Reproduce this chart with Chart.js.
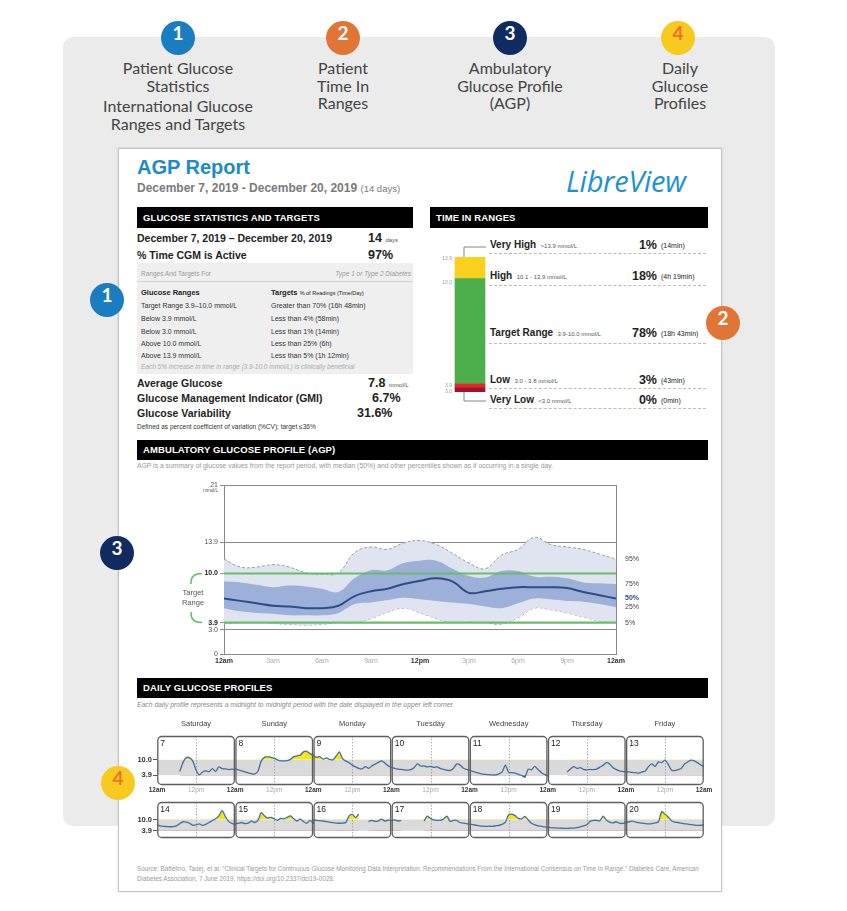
<!DOCTYPE html>
<html>
<head>
<meta charset="utf-8">
<script src="https://cdn.jsdelivr.net/npm/chart.js@4.4.1/dist/chart.umd.min.js"></script>
<style>
body { margin: 0; background: #fff; }
#page { position: relative; width: 847px; height: 911px; overflow: hidden; font-family: "Liberation Sans", Arial, sans-serif; color: #222; }
.a { position: absolute; white-space: nowrap; line-height: 1; }
.circ { position: absolute; width: 34px; height: 34px; border-radius: 50%; text-align: center; line-height: 34px; font: bold 19px Lato, sans-serif; color: #fff; }
.hd { position: absolute; width: 200px; text-align: center; font: 16px Lato, sans-serif; color: #444; line-height: 17.5px; }
.bar { position: absolute; background: #000; color: #fff; font-weight: bold; font-size: 9.5px; line-height: 21px; padding-left: 6px; box-sizing: border-box; letter-spacing: 0.1px; }
.b { font-weight: bold; }
.sm { font-size: 6px; font-weight: normal; color: #555; }
.dash { position: absolute; left: 489px; width: 217px; border-top: 1px dashed #bdbdbd; }
canvas { position: absolute; }
</style>
</head>
<body>
<div id="page">
  <!-- grey backdrop and report card -->
  <div style="position:absolute;left:63px;top:37px;width:712px;height:789px;background:#ebebeb;border-radius:10px;"></div>
  <div style="position:absolute;left:118px;top:148px;width:602px;height:742px;background:#fff;border:1px solid #c4c4c4;box-shadow:0 0 2px rgba(0,0,0,0.15);"></div>

  <!-- numbered headings -->
  <div class="circ" style="left:161px;top:21px;background:#1a7dc0;">1</div>
  <div class="circ" style="left:326px;top:21px;background:#e07535;">2</div>
  <div class="circ" style="left:493px;top:21px;background:#0f2b5f;">3</div>
  <div class="circ" style="left:661px;top:21px;background:#f8c91f;color:#e8742c;">4</div>
  <div class="hd" style="left:78px;top:59px;">Patient Glucose<br>Statistics</div>
  <div class="hd" style="left:78px;top:97px;">International Glucose<br>Ranges and Targets</div>
  <div class="hd" style="left:243px;top:59px;">Patient<br>Time In<br>Ranges</div>
  <div class="hd" style="left:410px;top:59px;">Ambulatory<br>Glucose Profile<br>(AGP)</div>
  <div class="hd" style="left:580px;top:59px;">Daily<br>Glucose<br>Profiles</div>

  <!-- report header -->
  <div class="a b" style="left:137px;top:157px;font-size:20px;color:#1b8bcb;">AGP Report</div>
  <div class="a b" style="left:137px;top:182px;font-size:12px;color:#7a7a7a;">December 7, 2019 - December 20, 2019 <span style="font-weight:normal;font-size:9.5px;">(14 days)</span></div>
  <div class="a" style="left:566px;top:161px;font:italic 29px 'Open Sans',sans-serif;color:#1b93d2;letter-spacing:-0.3px;">LibreView</div>

  <div class="bar" style="left:137px;top:207px;width:276px;height:21px;">GLUCOSE STATISTICS AND TARGETS</div>
  <div class="bar" style="left:430px;top:207px;width:278px;height:21px;">TIME IN RANGES</div>

  <!-- glucose statistics -->
  <div class="a b" style="left:137px;top:233px;font-size:10.5px;">December 7, 2019 &ndash; December 20, 2019</div>
  <div class="a b" style="left:368px;top:232px;font-size:12.5px;">14 <span class="sm">days</span></div>
  <div class="a b" style="left:137px;top:250px;font-size:10.5px;">% Time CGM is Active</div>
  <div class="a b" style="left:368px;top:249px;font-size:12.5px;">97%</div>
  <div style="position:absolute;left:137px;top:263px;width:276px;height:111px;background:#efefef;"></div>
  <div style="position:absolute;left:137px;top:281px;width:276px;border-top:1px solid #d2d2d2;"></div>
  <div class="a" style="left:141px;top:271px;font-size:6.5px;color:#9a9a9a;">Ranges And Targets For</div>
  <div class="a" style="right:436px;top:271px;font-size:6.5px;color:#9a9a9a;font-style:italic;">Type 1 or Type 2 Diabetes</div>
  <div class="a b" style="left:141px;top:289px;font-size:7.5px;">Glucose Ranges</div>
  <div class="a b" style="left:271px;top:289px;font-size:7.5px;">Targets <span style="font-size:5.5px;font-weight:normal;">% of Readings (Time/Day)</span></div>
  <div class="a" style="left:141px;top:302px;font-size:7px;color:#333;">Target Range 3.9&ndash;10.0 mmol/L</div>
  <div class="a" style="left:271px;top:302px;font-size:7px;color:#333;">Greater than 70% (16h 48min)</div>
  <div class="a" style="left:141px;top:315px;font-size:7px;color:#333;">Below 3.9 mmol/L</div>
  <div class="a" style="left:271px;top:315px;font-size:7px;color:#333;">Less than 4% (58min)</div>
  <div class="a" style="left:141px;top:328px;font-size:7px;color:#333;">Below 3.0 mmol/L</div>
  <div class="a" style="left:271px;top:328px;font-size:7px;color:#333;">Less than 1% (14min)</div>
  <div class="a" style="left:141px;top:340px;font-size:7px;color:#333;">Above 10.0 mmol/L</div>
  <div class="a" style="left:271px;top:340px;font-size:7px;color:#333;">Less than 25% (6h)</div>
  <div class="a" style="left:141px;top:352px;font-size:7px;color:#333;">Above 13.9 mmol/L</div>
  <div class="a" style="left:271px;top:352px;font-size:7px;color:#333;">Less than 5% (1h 12min)</div>
  <div class="a" style="left:141px;top:364px;font-size:6.5px;color:#aaa;font-style:italic;">Each 5% increase in time in range (3.9-10.0 mmol/L) is clinically beneficial</div>
  <div class="a b" style="left:137px;top:378px;font-size:10.5px;">Average Glucose</div>
  <div class="a b" style="left:368px;top:377px;font-size:12.5px;">7.8 <span class="sm">mmol/L</span></div>
  <div class="a b" style="left:137px;top:393px;font-size:10.5px;">Glucose Management Indicator (GMI)</div>
  <div class="a b" style="left:372px;top:392px;font-size:12.5px;">6.7%</div>
  <div class="a b" style="left:137px;top:408px;font-size:10.5px;">Glucose Variability</div>
  <div class="a b" style="left:357px;top:407px;font-size:12.5px;">31.6%</div>
  <div class="a" style="left:137px;top:424px;font-size:6.5px;color:#333;">Defined as percent coefficient of variation (%CV); target &le;36%</div>

  <!-- time in ranges text -->
  <div class="a b" style="left:490px;top:240px;font-size:10px;">Very High <span class="sm">&nbsp;&gt;13.9 mmol/L</span></div>
  <div class="a b" style="right:190px;top:239px;font-size:12.5px;">1%</div>
  <div class="a" style="left:661px;top:242px;font-size:7px;">(14min)</div>
  <div class="dash" style="top:253px;"></div>
  <div class="a b" style="left:490px;top:271px;font-size:10px;">High <span class="sm">&nbsp;10.1 - 13.9 mmol/L</span></div>
  <div class="a b" style="right:190px;top:270px;font-size:12.5px;">18%</div>
  <div class="a" style="left:661px;top:273px;font-size:7px;">(4h 19min)</div>
  <div class="dash" style="top:285px;"></div>
  <div class="a b" style="left:490px;top:328px;font-size:10px;">Target Range <span class="sm">&nbsp;3.9-10.0 mmol/L</span></div>
  <div class="a b" style="right:190px;top:327px;font-size:12.5px;">78%</div>
  <div class="a" style="left:661px;top:330px;font-size:7px;">(18h 43min)</div>
  <div class="dash" style="top:343px;"></div>
  <div class="a b" style="left:490px;top:375px;font-size:10px;">Low <span class="sm">&nbsp;3.0 - 3.8 mmol/L</span></div>
  <div class="a b" style="right:190px;top:374px;font-size:12.5px;">3%</div>
  <div class="a" style="left:661px;top:377px;font-size:7px;">(43min)</div>
  <div class="dash" style="top:388px;"></div>
  <div class="a b" style="left:490px;top:395px;font-size:10px;">Very Low <span class="sm">&nbsp;&lt;3.0 mmol/L</span></div>
  <div class="a b" style="right:190px;top:394px;font-size:12.5px;">0%</div>
  <div class="a" style="left:661px;top:397px;font-size:7px;">(0min)</div>
  <div class="dash" style="top:408px;"></div>

  <!-- AGP -->
  <div class="bar" style="left:137px;top:440px;width:571px;height:20px;line-height:20px;">AMBULATORY GLUCOSE PROFILE (AGP)</div>
  <div class="a" style="left:137px;top:463px;font-size:6.8px;color:#999;">AGP is a summary of glucose values from the report period, with median (50%) and other percentiles shown as if occurring in a single day.</div>

  <!-- daily profiles -->
  <div class="bar" style="left:137px;top:678px;width:571px;height:20px;line-height:20px;">DAILY GLUCOSE PROFILES</div>
  <div class="a" style="left:137px;top:702px;font-size:6.8px;color:#888;font-style:italic;">Each daily profile represents a midnight to midnight period with the date displayed in the upper left corner.</div>

  <div class="a" style="left:137px;top:864px;font-size:6.3px;color:#9a9a9a;line-height:10px;white-space:normal;width:566px;">Source: Battelino, Tadej, et al. &ldquo;Clinical Targets for Continuous Glucose Monitoring Data Interpretation: Recommendations From the International Consensus on Time in Range.&rdquo; Diabetes Care, American Diabetes Association, 7 June 2019, https://doi.org/10.2337/dci19-0028.</div>

  <canvas id="tir" width="80" height="178" style="left:430px;top:236px;"></canvas>
  <canvas id="agp" width="530" height="205" style="left:150px;top:470px;"></canvas>
  <canvas id="row2" width="620" height="60" style="left:100px;top:796px;"></canvas>
  <canvas id="row1" width="620" height="86" style="left:100px;top:714px;"></canvas>

  <!-- side markers -->
  <div class="circ" style="left:90px;top:283px;background:#1a7dc0;">1</div>
  <div class="circ" style="left:706px;top:306px;background:#e07535;">2</div>
  <div class="circ" style="left:100px;top:536px;background:#0f2b5f;">3</div>
  <div class="circ" style="left:101px;top:766px;background:#f8c91f;color:#e8742c;">4</div>
</div>

<script>
// time in ranges, bottom to top
const tirNames = ['Very Low', 'Low', 'Target Range', 'High', 'Very High'];
const tirValues = [0, 3, 78, 18, 1];
const tirColors = ['#9e1528', '#e2262e', '#4caf4c', '#fad21d', '#f29a2e'];
const tirBounds = ['3.0', '3.9', '10.0', '13.9'];

// AGP percentiles, hourly 12am..12am (mmol/L)
const agpHours = [0,1,2,3,4,5,6,7,8,9,10,11,12,13,14,15,16,17,18,19,20,21,22,23,24];
const agpP95 = [11.8,10.8,10.8,11.1,10.8,10.1,9.9,10.1,12.6,13.3,13.0,13.8,14.1,13.6,12.5,11.3,10.6,12.3,13.0,14.5,13.6,13.3,13.0,12.4,11.8];
const agpP75 = [9.0,8.9,8.6,8.3,8.5,8.4,8.1,7.7,9.4,10.4,10.4,11.3,11.6,11.6,10.6,9.7,9.5,10.3,10.3,9.6,9.6,9.4,8.9,8.8,8.7];
const agpP50 = [6.9,6.6,6.3,6.0,5.9,5.7,5.7,6.0,7.2,7.8,8.1,8.7,9.1,9.4,9.0,7.6,7.8,8.1,8.3,8.3,8.3,8.2,7.7,7.3,6.9];
const agpP25 = [5.7,5.3,5.1,5.0,4.8,4.8,4.8,5.1,6.2,6.4,6.7,7.0,6.8,6.6,6.4,6.2,5.9,5.7,6.3,6.9,6.8,6.6,6.5,6.2,5.8];
const agpP5  = [3.8,3.9,4.0,3.8,3.7,3.6,3.7,3.9,3.9,4.4,5.2,5.7,5.1,4.4,3.9,4.0,3.9,3.7,4.5,5.7,5.5,5.1,4.6,4.1,3.9];
const agpYTicks = [0, 3.0, 3.9, 10.0, 13.9, 21];
const agpXLabels = ['12am','3am','6am','9am','12pm','3pm','6pm','9pm','12am'];
const targetRange = [3.9, 10.0];

// daily profiles, hourly readings 12am..12am, null = no data
const dayNames = ['Saturday','Sunday','Monday','Tuesday','Wednesday','Thursday','Friday'];
const week1Dates = [7, 8, 9, 10, 11, 12, 13];
const week2Dates = [14, 15, 16, 17, 18, 19, 20];
const week1 = [
  [null,null,null,null,null,null,null,5.4,9.0,10.9,10.8,9.5,6.0,4.0,5.2,5.6,5.3,6.5,5.4,7.2,6.5,6.4,6.1,6.3,6.2],
  [6.3,6.0,5.6,5.2,4.8,4.5,4.4,5.5,9.5,11.0,11.3,11.0,10.6,10.0,9.6,9.6,9.7,10.2,11.3,11.6,11.9,13.2,13.4,12.5,11.8],
  [11.9,11.0,11.3,10.3,10.8,10.2,10.0,11.5,13.2,10.5,9.5,8.9,7.9,7.2,6.6,6.4,7.3,6.6,7.6,8.3,9.0,9.6,8.7,7.6,7.0],
  [7.0,6.6,6.3,6.2,6.0,5.9,6.1,7.0,8.4,7.5,7.6,7.2,7.4,7.0,7.2,6.6,6.2,5.9,5.8,6.6,8.3,8.0,6.8,6.2,5.9],
  [5.9,5.4,5.0,4.6,4.3,4.2,4.1,4.0,4.0,4.4,5.2,7.9,5.0,4.9,4.7,4.2,3.8,3.1,6.3,6.0,7.4,6.2,5.0,4.2,3.6],
  [null,null,null,null,null,null,5.2,6.4,7.3,6.6,6.9,6.2,6.0,6.2,6.1,6.3,7.1,7.8,8.9,8.4,7.0,6.2,5.6,5.4,5.2],
  [5.4,5.2,5.0,4.9,4.7,5.2,5.6,7.4,8.4,7.4,9.2,8.9,9.9,8.2,6.0,5.7,6.1,6.6,8.3,9.2,9.9,9.6,8.9,8.0,7.3]
];
const week2 = [
  [7.2,6.6,6.3,6.2,6.1,6.2,6.6,7.8,8.8,8.6,8.0,6.9,7.1,7.6,6.8,7.4,8.4,9.5,10.4,12.0,14.8,11.6,9.0,7.9,7.4],
  [7.5,8.0,8.4,7.8,8.0,9.1,8.4,9.5,13.8,12.0,10.8,11.2,10.4,9.6,10.6,10.4,11.2,12.0,10.4,9.2,10.2,8.9,8.0,9.5,8.0],
  [9.7,9.5,9.4,9.2,8.9,8.6,8.3,8.1,8.0,8.1,8.4,12.0,12.8,11.2,13.0,null,null,8.9,9.6,9.0,9.3,10.2,9.2,9.7,9.4],
  [9.4,9.8,9.2,9.6,null,null,null,null,null,null,9.1,11.8,10.6,9.8,9.6,9.6,10.2,11.9,9.0,9.5,9.6,8.4,8.0,7.8,7.5],
  [7.5,7.2,6.9,6.6,6.4,6.3,6.4,6.3,6.6,6.9,7.4,8.6,12.6,12.9,12.1,10.6,10.4,11.7,9.8,8.0,7.2,6.6,6.4,6.0,5.8],
  [5.8,5.6,5.5,5.4,5.3,5.2,5.2,5.3,5.4,5.6,6.0,6.6,7.2,9.0,9.5,9.6,9.3,11.8,9.8,8.6,8.2,8.8,8.0,7.9,8.4],
  [8.4,8.8,9.1,8.6,8.3,8.0,7.8,7.7,7.8,8.2,8.7,14.2,13.0,11.4,9.4,8.6,8.4,8.0,7.7,7.5,7.2,7.0,6.8,6.9,7.1]
];

Chart.defaults.font.family = '"Liberation Sans", Arial, sans-serif';
Chart.defaults.plugins.legend.display = false;
Chart.defaults.plugins.tooltip.enabled = false;

const CLEAR = 'rgba(0,0,0,0)';
const tickVal = ctx => (ctx && ctx.tick) ? ctx.tick.value : null;
const isTarget = ctx => targetRange.includes(tickVal(ctx));

// 1. TIME IN RANGES (stacked bar)
const tirMarks = {
  id: 'tirMarks',
  afterDraw(c) {
    const ctx = c.ctx, y = c.scales.y, bar = c.getDatasetMeta(0).data[0];
    const left = bar.x - bar.width / 2;
    ctx.save();
    ctx.font = '5px "Liberation Sans", Arial';
    ctx.fillStyle = '#9a9a9a';
    ctx.textAlign = 'right';
    ctx.textBaseline = 'middle';
    let cum = 0, lastY = null;
    tirBounds.forEach((lab, i) => {
      cum += tirValues[i];
      let py = y.getPixelForValue(cum);
      if (lastY !== null && lastY - py < 6) py = lastY - 6;
      ctx.fillText(lab, left - 3, py);
      lastY = py;
    });
    // leader lines to the outer rows
    const top = y.getPixelForValue(100), bot = y.getPixelForValue(0);
    ctx.strokeStyle = '#666';
    ctx.lineWidth = 0.8;
    ctx.beginPath();
    ctx.moveTo(bar.x - 6, top); ctx.lineTo(bar.x - 6, 11); ctx.lineTo(c.width - 24, 11);
    ctx.moveTo(bar.x - 6, bot); ctx.lineTo(bar.x - 6, 165); ctx.lineTo(c.width - 24, 165);
    ctx.stroke();
    ctx.restore();
  }
};

new Chart(document.getElementById('tir'), {
  type: 'bar',
  data: {
    labels: [''],
    datasets: tirNames.map((n, i) => ({
      label: n, data: [tirValues[i]], backgroundColor: tirColors[i],
      barThickness: 30, minBarLength: i === 0 ? 4 : 2
    }))
  },
  options: {
    responsive: false, animation: false,
    layout: { padding: { top: 21, bottom: 22, left: 0, right: 0 } },
    scales: {
      x: { stacked: true, display: false },
      y: { stacked: true, display: false, min: 0, max: 100 }
    }
  },
  plugins: [tirMarks]
});

// 2. AGP
const pts = arr => arr.map((v, i) => ({ x: agpHours[i], y: v }));

const agpMarks = {
  id: 'agpMarks',
  afterDatasetsDraw(c) {
    const ctx = c.ctx, a = c.chartArea, y = c.scales.y;
    ctx.save();
    ctx.strokeStyle = '#67bd68';
    ctx.lineWidth = 2.2;
    targetRange.forEach(v => {
      const py = y.getPixelForValue(v);
      ctx.beginPath(); ctx.moveTo(a.left, py); ctx.lineTo(a.right, py); ctx.stroke();
    });
    ctx.restore();
  },
  afterDraw(c) {
    const ctx = c.ctx, a = c.chartArea, y = c.scales.y;
    ctx.save();
    ctx.textBaseline = 'middle';
    ctx.font = '4.5px "Liberation Sans", Arial';
    ctx.fillStyle = '#555';
    ctx.textAlign = 'right';
    ctx.fillText('mmol/L', a.left - 6, y.getPixelForValue(21) + 6);
    // percentile labels at the right end
    const last = agpHours.length - 1;
    const labs = [['95%', agpP95], ['75%', agpP75], ['50%', agpP50], ['25%', agpP25], ['5%', agpP5]];
    ctx.textAlign = 'left';
    labs.forEach(([t, arr]) => {
      const mid = t === '50%';
      ctx.font = (mid ? 'bold ' : '') + '7px "Liberation Sans", Arial';
      ctx.fillStyle = mid ? '#2d4c86' : '#444';
      ctx.fillText(t, a.right + 9, y.getPixelForValue(arr[last]));
    });
    // target range bracket
    const y10 = y.getPixelForValue(targetRange[1]), y39 = y.getPixelForValue(targetRange[0]);
    const mid = (y10 + y39) / 2, bx = a.left - 33, ex = a.left - 22;
    ctx.strokeStyle = '#67bd68';
    ctx.lineWidth = 1.5;
    ctx.beginPath();
    ctx.moveTo(ex, y10); ctx.quadraticCurveTo(bx, y10, bx, y10 + 9); ctx.lineTo(bx, mid - 14);
    ctx.moveTo(bx, mid + 14); ctx.lineTo(bx, y39 - 9); ctx.quadraticCurveTo(bx, y39, ex, y39);
    ctx.stroke();
    ctx.font = '7.5px "Liberation Sans", Arial';
    ctx.fillStyle = '#555';
    ctx.textAlign = 'center';
    ctx.fillText('Target', bx + 2, mid - 5);
    ctx.fillText('Range', bx + 2, mid + 5);
    ctx.restore();
  }
};

new Chart(document.getElementById('agp'), {
  type: 'line',
  data: {
    datasets: [
      { label: '95%', data: pts(agpP95), borderColor: '#9d9d9d', borderDash: [3, 2], borderWidth: 1, fill: 1, backgroundColor: '#dfe4f0', order: 2 },
      { label: '5%', data: pts(agpP5), borderColor: '#9d9d9d', borderDash: [3, 2], borderWidth: 1, fill: false, order: 2 },
      { label: '75%', data: pts(agpP75), borderColor: CLEAR, borderWidth: 1, fill: 3, backgroundColor: '#9db0da', order: 1 },
      { label: '25%', data: pts(agpP25), borderColor: CLEAR, borderWidth: 1, fill: false, order: 1 },
      { label: '50%', data: pts(agpP50), borderColor: '#2d4c86', borderWidth: 2, fill: false, order: 0 }
    ]
  },
  options: {
    responsive: false, animation: false,
    elements: { point: { radius: 0 }, line: { tension: 0.4 } },
    layout: { padding: { left: 14, right: 64, top: 15, bottom: 5 } },
    scales: {
      x: {
        type: 'linear', min: 0, max: 24,
        afterBuildTicks: s => { s.ticks = agpXLabels.map((l, i) => ({ value: i * 3 })); },
        afterFit: s => { s.height = 16; },
        ticks: {
          callback: (v, i) => agpXLabels[i], maxRotation: 0, autoSkip: false, padding: 3,
          font: ctx => ({ size: 7, weight: (tickVal(ctx) % 12 === 0) ? 'bold' : 'normal' }),
          color: ctx => (tickVal(ctx) % 12 === 0) ? '#333' : '#aaa'
        },
        grid: { color: ctx => (tickVal(ctx) === 0 || tickVal(ctx) === 24) ? '#8a8a8a' : CLEAR, drawTicks: false },
        border: { color: '#8a8a8a' }
      },
      y: {
        min: 0, max: 21,
        afterBuildTicks: s => { s.ticks = agpYTicks.map(v => ({ value: v })); },
        afterFit: s => { s.width = 60; },
        ticks: {
          callback: v => (v === 0 || v === 21) ? String(v) : v.toFixed(1), padding: 2,
          font: ctx => ({ size: 7, weight: isTarget(ctx) ? 'bold' : 'normal' }),
          color: ctx => isTarget(ctx) ? '#222' : '#555'
        },
        grid: {
          color: ctx => isTarget(ctx) ? CLEAR : '#8a8a8a',
          tickColor: ctx => isTarget(ctx) ? '#67bd68' : '#8a8a8a',
          tickLength: 4
        },
        border: { color: '#8a8a8a' }
      }
    }
  },
  plugins: [agpMarks]
});

// 3. DAILY GLUCOSE PROFILES
const dayBoxes = {
  id: 'dayBoxes',
  beforeDatasetsDraw(c) {
    const ctx = c.ctx, a = c.chartArea, x = c.scales.x, y = c.scales.y;
    const yHi = y.getPixelForValue(targetRange[1]), yLo = y.getPixelForValue(targetRange[0]);
    ctx.save();
    ctx.fillStyle = '#dadada';
    ctx.fillRect(a.left, yHi, a.right - a.left, yLo - yHi);
    ctx.strokeStyle = '#9a9a9a';
    ctx.lineWidth = 0.8;
    ctx.setLineDash([1.5, 1.5]);
    for (let d = 0; d < 7; d++) {
      const px = Math.round(x.getPixelForValue(d * 24 + 12)) + 0.5;
      ctx.beginPath(); ctx.moveTo(px, a.top); ctx.lineTo(px, a.bottom); ctx.stroke();
    }
    ctx.restore();
  },
  afterDatasetsDraw(c, args, opts) {
    const ctx = c.ctx, a = c.chartArea, x = c.scales.x;
    ctx.save();
    for (let d = 0; d < 7; d++) {
      const x0 = x.getPixelForValue(d * 24) + 0.8, x1 = x.getPixelForValue(d * 24 + 24) - 0.8;
      ctx.strokeStyle = '#5e5e5e';
      ctx.lineWidth = 1.3;
      ctx.beginPath();
      ctx.roundRect(x0, a.top + 0.5, x1 - x0, a.bottom - a.top - 1, 4);
      ctx.stroke();
      ctx.fillStyle = '#222';
      ctx.font = '8.5px "Liberation Sans", Arial';
      ctx.textAlign = 'left';
      ctx.textBaseline = 'top';
      ctx.fillText(String(opts.dates[d]), x0 + 2.5, a.top + 3);
      if (opts.names) {
        ctx.fillStyle = '#444';
        ctx.font = '7.5px "Liberation Sans", Arial';
        ctx.textAlign = 'center';
        ctx.textBaseline = 'middle';
        ctx.fillText(opts.names[d], (x0 + x1) / 2, a.top - 12);
      }
    }
    ctx.restore();
  }
};

function weekPoints(week) {
  const out = [];
  week.forEach((day, d) => day.forEach((v, h) => out.push({ x: d * 24 + h, y: v })));
  return out;
}

function makeRow(id, week, dates, names, showX, pad) {
  const data = weekPoints(week);
  new Chart(document.getElementById(id), {
    type: 'line',
    data: {
      datasets: [
        { data, borderColor: '#41709e', borderWidth: 1.3, spanGaps: false,
          fill: { target: { value: targetRange[1] }, above: '#f5e51b', below: CLEAR } },
        { data, borderColor: CLEAR, borderWidth: 1, spanGaps: false,
          fill: { target: { value: targetRange[0] }, above: CLEAR, below: '#8c1e5c' } }
      ]
    },
    options: {
      responsive: false, animation: false,
      elements: { point: { radius: 0 }, line: { tension: 0.25 } },
      layout: { padding: pad },
      plugins: { dayBoxes: { dates, names } },
      scales: {
        x: {
          type: 'linear', min: 0, max: 168, display: showX,
          afterBuildTicks: s => { s.ticks = Array.from({ length: 15 }, (_, i) => ({ value: i * 12 })); },
          afterFit: s => { s.height = 13; },
          ticks: {
            callback: v => v % 24 === 0 ? '12am' : '12pm', maxRotation: 0, autoSkip: false, padding: 1,
            font: ctx => ({ size: 6.5, weight: (tickVal(ctx) % 24 === 0) ? 'bold' : 'normal' }),
            color: ctx => (tickVal(ctx) % 24 === 0) ? '#333' : '#aaa'
          },
          grid: { display: false, drawTicks: false },
          border: { display: false }
        },
        y: {
          min: 0, max: 19.5,
          afterBuildTicks: s => { s.ticks = targetRange.map(v => ({ value: v })); },
          afterFit: s => { s.width = 40; },
          ticks: { callback: v => v.toFixed(1), font: { size: 7.5, weight: 'bold' }, color: '#333', padding: 1 },
          grid: { drawOnChartArea: false, tickLength: 4, tickColor: '#555' },
          border: { display: false }
        }
      }
    },
    plugins: [dayBoxes]
  });
}

makeRow('row1', week1, week1Dates, dayNames, true, { left: 17, right: 16, top: 22, bottom: 2 });
makeRow('row2', week2, week2Dates, null, false, { left: 17, right: 16, top: 6, bottom: 5 });
</script>
</body>
</html>
